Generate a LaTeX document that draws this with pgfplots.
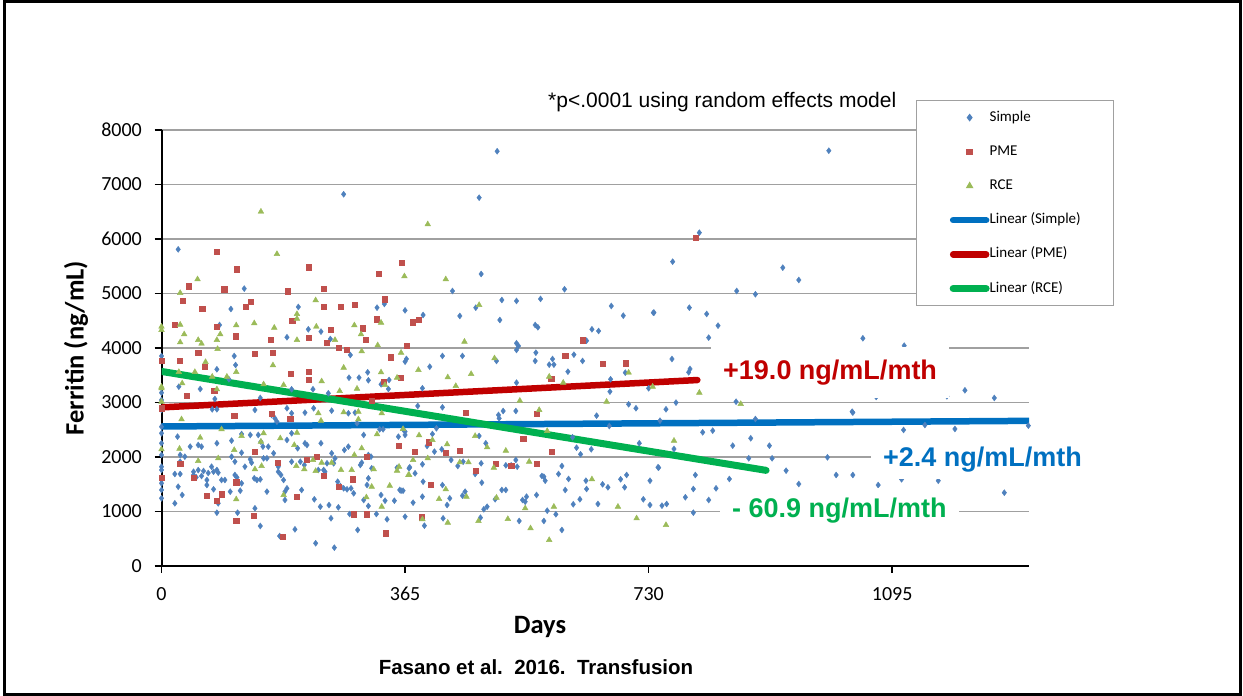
\documentclass[border=0pt]{standalone}
\usepackage{fontspec}
\setmainfont{Carlito}
\newfontfamily\arial{Liberation Sans}
\usepackage{pgfplots}
\pgfplotsset{compat=1.18}
\definecolor{cSimple}{HTML}{4F81BD}
\definecolor{cPME}{HTML}{C0504D}
\definecolor{cRCE}{HTML}{9BBB59}
\definecolor{lSimple}{HTML}{0070C0}
\definecolor{lPME}{HTML}{C00000}
\definecolor{lRCE}{HTML}{00B050}
\definecolor{gridc}{RGB}{160,160,160}
\pgfplotsset{
  markleg/.style={legend image code/.code={\draw[mark repeat=2,mark phase=2,##1] plot coordinates {(0pt,0pt) (16.5pt,0pt) (33pt,0pt)};}},
  lineleg/.style={legend image code/.code={\draw[##1,line cap=round] (0pt,0pt) -- (33pt,0pt);}},
}
\begin{document}
\begin{tikzpicture}[x=1pt,y=1pt]
\useasboundingbox (0,0) rectangle (1243,696);
\begin{axis}[
  scale only axis, width=867.5pt, height=436pt,
  at={(161.5pt,130pt)}, anchor=south west,
  xmin=0, xmax=1300, ymin=0, ymax=8000,
  xtick={0,365,730,1095}, ytick={0,1000,...,8000},
  axis x line*=bottom, axis y line*=left,
  axis line style={-, line width=2pt, black},
  x axis line style={-}, y axis line style={-},
  ymajorgrids, grid style={gridc, line width=1.5pt},
  tick align=outside, major tick length=7pt,
  tick style={black, line width=1.5pt},
  /pgf/number format/1000 sep={},
  /pgf/number format/assume math mode=true,
  tick label style={font=\fontsize{20}{24}\selectfont},
  yticklabel style={anchor=east, inner sep=0pt, xshift=-12.5pt},
  xticklabel style={anchor=north, inner sep=0pt, yshift=-14pt},
  xlabel={Days},
  ylabel={Ferritin (ng/mL)},
  xlabel style={font=\bfseries\fontsize{26.5}{30}\selectfont, at={(axis description cs:0.4363,-0.1537)}, anchor=base},
  ylabel style={font=\bfseries\fontsize{26.5}{30}\selectfont, at={(axis description cs:-0.0985,0.5)}, anchor=center},
  legend style={at={(0.8698,1.0688)}, anchor=north west, draw=gridc, line width=1.2pt, fill=white,
    inner xsep=33pt, inner ysep=10pt, font=\fontsize{15}{18}\selectfont, row sep=20.2pt,
    nodes={inner sep=0pt, text height=10.5pt, text depth=3.5pt},
    /tikz/every even column/.append style={column sep=2.5pt}},
  legend cell align=left,
]
% Simple
\addplot[only marks, mark=diamond*, mark size=3pt, color=cSimple, markleg] coordinates {
(25,5810) (124,5090) (104,4716) (87,4422) (205,4753) (220,4343) (239,4300) (188,4197) (253,4165) (109,3853) (111,3688) (83,3609)
(26,3290) (58,3248) (101,3426) (0,3853) (0,3180) (283,3872) (281,3455) (296,3455) (310,3407) (309,3554) (323,4740) (334,4808)
(365,4690) (367,3800) (329,3334) (340,3248) (341,3413) (227,3243) (195,3243) (250,3169) (148,3083) (80,3065)
(24,2373) (43,2190) (55,2220) (60,2190) (28,2037) (28,1914) (35,2006) (48,1730) (55,1760) (63,1743) (70,1706) (48,1670)
(52,1627) (60,1651) (20,1688) (28,1688) (25,1455) (31,1303) (20,1150) (0,2435) (0,2252) (0,2037) (0,1822) (0,1578)
(0,1395) (0,1242) (68,1578) (68,1486) (75,1822) (78,1730) (83,1762) (85,1712) (90,1578) (95,1578) (78,1407) (85,1150)
(83,978) (103,1364) (105,2300) (105,2006) (110,1914) (110,1670) (113,1627) (120,1517) (118,1382) (114,978) (125,1822)
(133,1958) (135,1896) (133,2404) (140,2863) (145,2404) (149,2281) (152,2190) (139,1609) (143,1578) (148,1590) (140,1059)
(148,734) (158,1364) (153,1976) (158,1976) (160,2190) (168,2068) (170,2710) (173,2648) (165,2771) (175,1730) (179,1670)
(183,1578) (175,1822) (185,1364) (185,1211) (188,1425) (177,550) (195,2802) (188,2894) (188,2312) (195,1914) (204,2160)
(208,1914) (214,1853) (210,1395) (200,673) (215,2252) (218,2220) (215,2813) (228,2894) (239,2252) (229,1224) (238,1088)
(231,417) (243,1762) (235,1762) (251,1119) (255,2068) (254,875) (255,2850) (259,336) (264,1547) (268,1468) (265,1077)
(273,1425) (278,1407) (274,2129) (280,2190) (282,954) (284,1425) (288,1334) (294,661) (298,1853) (300,1896) (303,1211)
(303,2404) (310,1609) (308,1486) (310,1101) (310,2037) (314,2006) (315,1793) (322,954) (329,1303) (335,1198) (338,857)
(349,1198) (353,1804) (359,1382) (362,1382) (365,905) (371,1793) (355,2373) (362,2508) (327,2508) (332,2508) (293,2619)
(280,2802) (290,2813) (260,1976) (258,1884) (248,1884) (245,1730) (120,2422) (120,2079) (83,2252) (76,2875) (83,2875)
(195,2435) (0,3046) (0,2863) (0,2556) (0,1762) (0,1517)
(479,5358) (436,5046) (604,5078) (392,4606) (447,4588) (471,4740) (510,4881) (532,4863) (568,4900) (507,4514) (560,4422)
(564,4380) (674,4771) (692,4593) (738,4649) (645,4343) (655,4312) (637,4134) (532,4086) (535,4037) (532,3964) (421,3854)
(451,3854) (365,3749) (402,3657) (502,3762) (561,3914) (560,3762) (581,3694) (588,3694) (586,3798) (618,3878) (631,3762)
(609,3566) (673,3426) (532,3364) (391,3261) (695,3548) (672,3199) (730,3261)
(384,2936) (421,2912) (512,2844) (505,2771) (506,2710) (531,2844) (365,2465) (365,2404) (406,2422) (412,2527) (398,2202)
(409,2098) (420,2141) (476,2386) (486,2252) (434,1945) (444,1835) (452,1914) (479,1884) (470,1688) (516,1847) (524,1847)
(531,1945) (533,1822) (372,1811) (380,1701) (392,1547) (391,1866) (357,1395) (391,1272) (377,1162) (394,740) (421,1486)
(428,1119) (432,1242) (422,875) (455,1364) (451,1290) (480,1529) (483,1040) (488,1088) (478,887) (510,1395) (516,1395)
(500,1224) (536,826) (541,1211) (545,1180) (547,1272) (562,1303) (570,1652) (573,1639) (575,1565) (573,826) (578,1015)
(591,949) (600,661) (595,1688) (600,1835) (605,1395) (610,1597) (617,1132) (627,1224) (636,1565) (637,1413) (644,2141)
(622,2171) (628,2050) (616,2361) (652,2758) (654,1138) (661,1499) (669,1444) (688,1591) (694,1444) (697,1670) (671,2569)
(700,2967) (711,2894) (716,2252) (722,1224) (732,1565) (732,1119) (744,1811)
(766,5584) (931,5474) (955,5248) (862,5046) (890,4986) (737,4648) (791,4740) (817,4624) (834,4410) (820,4190) (1051,4178)
(1113,4043) (765,3798) (792,3615) (790,3554) (1006,3180) (1071,3101) (1177,3114) (1204,3224) (1248,3083) (756,2875)
(771,2997) (861,3015) (1035,2832) (1036,2815) (890,2697) (747,2666) (1299,2575) (811,2453) (826,2483) (1112,2496)
(1144,2587) (1189,2514) (768,2147) (856,2208) (883,2343) (911,2208) (880,1976) (915,1976) (998,1994) (745,1804) (800,1670)
(851,1597) (936,1749) (1011,1670) (1036,1670) (955,1505) (1074,1486) (1109,1591) (1164,1565) (797,1413) (831,1425)
(785,1261) (820,1211) (750,1107) (757,1138) (797,978) (1263,1345)
(503,7610) (476,6758) (806,6116) (273,6821) (1000,7620)
};
\addlegendentry{Simple}
% PME
\addplot[only marks, mark=square*, mark size=2.6pt, color=cPME, markleg] coordinates {
(83,5762) (113,5444) (41,5133) (94,5078) (220,5481) (243,5089) (189,5041) (32,4863) (61,4716) (134,4850) (126,4753)
(325,5364) (360,5560) (334,4894) (243,4753) (268,4765) (289,4795) (20,4428) (83,4392) (196,4502) (254,4331) (301,4362)
(323,4527) (111,4215) (164,4153) (220,4190) (248,4098) (306,4153) (265,4000) (278,3976) (368,4037) (55,3909) (140,3890)
(167,3909) (27,3774) (0,3767) (65,3652) (343,3830) (194,3529) (220,3566) (220,3419) (79,3217) (38,3120) (333,3382)
(109,2752) (165,2789) (193,2710) (28,1884) (140,2098) (174,1896) (48,1620) (0,1627) (68,1290) (83,1193) (90,1316)
(112,826) (112,1536) (138,923) (182,538) (203,1272) (232,2006) (218,1945) (243,1652) (265,1455) (286,1591) (307,2006)
(288,949) (308,949) (336,600) (356,2202) (315,3028) (0,2894)
(376,4472) (386,4514) (631,4142) (605,3854) (661,3707) (696,3720) (584,3432) (359,3462)
(456,2820) (562,2789) (380,2098) (401,2270) (426,2086) (447,2116) (542,2343) (585,2098) (501,1872) (524,1835) (562,1872)
(471,1749) (404,1499) (390,894) (800,6019)
};
\addlegendentry{PME}
% RCE
\addplot[only marks, mark=triangle*, mark size=3.3pt, color=cRCE, markleg] coordinates {
(173,5725) (54,5261) (28,5010) (231,4876) (203,4624) (203,4538) (364,5316) (0,4392) (0,4331) (28,4428) (34,4252) (28,4105)
(55,4147) (60,4080) (88,4252) (83,4147) (112,4417) (139,4454) (169,4373) (203,4147) (232,4392) (260,4147) (289,4417)
(299,4252) (329,4465) (324,4050) (84,3982) (300,3940) (359,3914) (66,3743) (167,3683) (112,3560) (50,3560) (26,3560)
(273,3639) (329,3554) (76,3474) (98,3474) (31,3352) (153,3334) (183,3321) (240,3389) (267,3211) (293,3254) (335,3321)
(353,3455) (0,3290) (83,3243)
(30,2692) (58,2355) (27,2153) (55,1927) (85,1976) (90,2508) (109,2129) (120,2386) (112,1224) (140,1775) (149,2281)
(153,2435) (150,1835) (178,2343) (183,1303) (199,2220) (203,2446) (202,1835) (214,1775) (227,1945) (231,1743) (235,2802)
(240,1896) (255,1896) (269,1762) (273,2820) (285,1762) (289,2037) (295,2831) (295,2692) (300,2160) (307,1261) (315,1455)
(318,1775) (323,2417) (330,1088) (330,2802) (342,1474) (353,1749) (356,1822) (362,2514) (370,1670) (239,2666)
(0,3261) (0,3015) (0,2141)
(426,5261) (476,4789) (454,4116) (499,3811) (385,3597) (429,3462) (464,3523) (581,3474) (700,3548) (441,3303) (602,3364)
(736,3290)
(386,2398) (406,2312) (428,2233) (377,1945) (399,1976) (371,1670) (447,1903) (460,1903) (488,2178) (470,2386) (516,2116)
(551,1914) (498,1804) (566,2863) (578,2477) (426,1407) (416,1229) (457,1272) (502,1254) (545,1059) (588,1088) (645,1591)
(684,1088) (712,875) (391,857) (429,795) (475,826) (519,862) (553,692) (581,477) (537,3033) (667,3015)
(806,3180) (834,3180) (904,3199) (868,2973) (768,2299) (756,752) (399,6270) (149,6502)
};
\addlegendentry{RCE}
% trend lines
\addplot[lSimple, line width=6.5pt, line cap=round, lineleg] coordinates {(0,2560) (1300,2663)};
\addlegendentry{Linear (Simple)}
\addplot[lPME, line width=6.5pt, line cap=round, lineleg] coordinates {(0,2910) (803,3412)};
\addlegendentry{Linear (PME)}
\addplot[lRCE, line width=7pt, line cap=round, lineleg] coordinates {(0,3570) (906,1755)};
\addlegendentry{Linear (RCE)}
\end{axis}
% annotations
\node[font=\arial\fontsize{21}{25}\selectfont, anchor=west, inner sep=0pt] at (548,594) {*p<.0001 using random effects model};
\node[font=\arial\bfseries\fontsize{27}{30}\selectfont, text=lPME, fill=white, inner xsep=12pt, inner ysep=13pt, anchor=base west] at (711,316.5) {+19.0 ng/mL/mth};
\node[font=\arial\bfseries\fontsize{27}{30}\selectfont, text=lSimple, fill=white, inner xsep=12pt, inner ysep=7pt, anchor=base west] at (871,229.3) {+2.4 ng/mL/mth};
\node[font=\arial\bfseries\fontsize{27}{30}\selectfont, text=lRCE, fill=white, inner xsep=12pt, inner ysep=10pt, anchor=base west] at (720,178) {- 60.9 ng/mL/mth};
\node[font=\arial\bfseries\fontsize{20.5}{24}\selectfont, anchor=base] at (536,21) {Fasano et al.\ \ 2016.\ \ Transfusion};
\draw[line width=3pt] (4.5,1.5) rectangle (1240,694.5);
\end{tikzpicture}
\end{document}
